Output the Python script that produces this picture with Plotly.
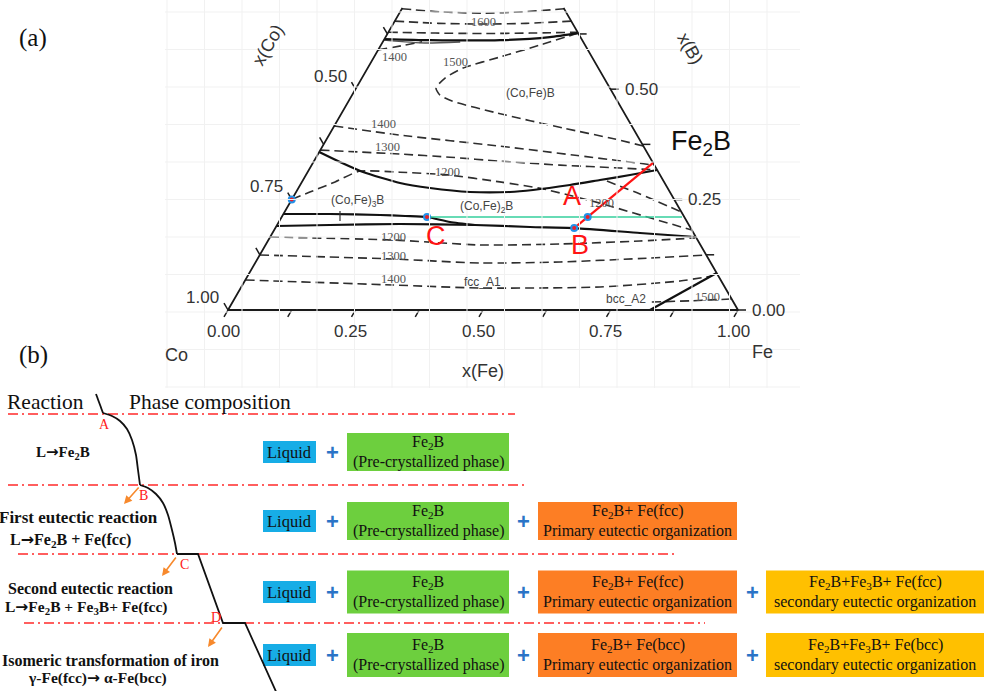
import numpy as np
import plotly.graph_objects as go

W, H = 989, 691
SANS = "Liberation Sans, Arial, sans-serif"
SERIF = "Liberation Serif, Times New Roman, serif"

# ---------------- (a) Co-Fe-B liquidus projection ----------------
# every curve is given as mole fractions (x(Fe), x(B)); x(Co) = 1 - x(Fe) - x(B)
X0_PX, X1_PX, BASE_PX = 228, 738, 310      # where the Co-Fe edge sits on the page
UNIT = X1_PX - X0_PX                        # pixels per unit of composition
SQ3 = np.sqrt(3) / 2
XB_TOP = 0.684                              # the diagram is cut off above this x(B)

TICKS = [0.0, 0.125, 0.25, 0.375, 0.5, 0.625, 0.75, 0.875, 1.0]
LABELLED = [0.0, 0.25, 0.5, 0.75, 1.0]

# isotherms (dashed)
iso_top_fe = [0.0, 0.08, 0.164, 0.24, 0.318]
iso_top_b = [0.682, 0.675, 0.672, 0.675, 0.682]
iso_1600_fe = [0.0, 0.088, 0.176, 0.26, 0.346]
iso_1600_b = [0.654, 0.649, 0.6475, 0.649, 0.654]
iso_top3_fe = [0.0, 0.093, 0.186, 0.279, 0.371]
iso_top3_b = [0.629, 0.627, 0.626, 0.627, 0.629]
iso_1400a_fe = [0.0, 0.04, 0.077]
iso_1400a_b = [0.589, 0.598, 0.607]
iso_1500_fe = [0.373, 0.312, 0.247, 0.187, 0.163, 0.1565, 0.172, 0.2026, 0.3045, 0.451, 0.565, 0.6287]
iso_1500_b = [0.627, 0.600, 0.5728, 0.5479, 0.5252, 0.5026, 0.4868, 0.4732, 0.446, 0.412, 0.3871, 0.3713]
iso_1400_fe = [0.0, 0.139, 0.348, 0.516, 0.672]
iso_1400_b = [0.4166, 0.396, 0.371, 0.349, 0.328]
iso_1300_fe = [0.0, 0.161, 0.262, 0.365, 0.487, 0.608, 0.683]
iso_1300_b = [0.362, 0.353, 0.346, 0.337, 0.328, 0.3215, 0.317]
iso_1200_fe = [0.0, 0.027, 0.065, 0.100, 0.181, 0.277, 0.388, 0.481, 0.608, 0.684, 0.819]
iso_1200_b = [0.251, 0.267, 0.290, 0.314, 0.312, 0.306, 0.290, 0.274, 0.242, 0.220, 0.181]
iso_side_fe = [0.597, 0.6765, 0.778]
iso_side_b = [0.292, 0.2626, 0.222]
iso_1200l_fe = [0.0, 0.2443, 0.4205, 0.5763, 0.7297, 0.8342]
iso_1200l_b = [0.1653, 0.1585, 0.1472, 0.1494, 0.1562, 0.163]
iso_1300l_fe = [0.0, 0.2658, 0.4409, 0.5967, 0.7686, 0.8755]
iso_1300l_b = [0.1245, 0.1155, 0.1064, 0.1087, 0.1177, 0.1245]
iso_1400l_fe = [0.0, 0.2952, 0.4692, 0.7034, 0.8535, 0.9105]
iso_1400l_b = [0.0679, 0.0566, 0.0498, 0.0521, 0.0657, 0.077]
iso_1500bcc_fe = [0.822, 0.90, 0.975]
iso_1500bcc_b = [0.018, 0.021, 0.025]

# monovariant boundaries (solid)
bnd_top_fe = [0.0, 0.0905, 0.228, 0.322, 0.373]
bnd_top_b = [0.6135, 0.611, 0.611, 0.618, 0.627]
bnd_top2_fe = [0.0, 0.084, 0.152]
bnd_top2_b = [0.611, 0.6045, 0.6067]
bnd_mb_fe = [0.0, 0.052, 0.1085, 0.1935, 0.258, 0.341, 0.4193, 0.4622, 0.529, 0.5822, 0.6354, 0.683]
bnd_mb_b = [0.3577, 0.3351, 0.3124, 0.2875, 0.2762, 0.2672, 0.2672, 0.2717, 0.283, 0.2943, 0.3056, 0.317]
bnd_m3b_fe = [0.0, 0.0913, 0.1905, 0.2407, 0.285, 0.3357, 0.3881]
bnd_m3b_b = [0.2173, 0.2173, 0.2151, 0.2128, 0.2105, 0.1992, 0.1924]
bnd_fcc_fe = [0.0, 0.1038, 0.2399, 0.3881, 0.4982, 0.586, 0.7206, 0.8347]
bnd_fcc_b = [0.1902, 0.1924, 0.1947, 0.1924, 0.1879, 0.1856, 0.1743, 0.1653]
bnd_bcc_fe = [0.8275, 0.9162]
bnd_bcc_b = [0.0, 0.0838]

# solidification path points
pt_B = (0.586, 0.1856)
pt_A = (0.600, 0.2105)
pt_C = (0.285, 0.2105)
pt_edge = (0.0, 0.25)
fe2b = (2 / 3, 1 / 3)
green_end_fe = 0.785

iso_labels = ["1600", "1400", "1500", "1400", "1300", "1200", "1200", "1200", "1300", "1400", "1500"]
iso_label_px = [(483, 22), (394, 57), (455, 62), (383, 124), (387, 147), (447, 172),
                (601, 203), (393, 237), (393, 256), (393, 279), (707, 297)]
phase_labels = ["(Co,Fe)B", "(Co,Fe)<sub>3</sub>B", "(Co,Fe)<sub>2</sub>B", "fcc_A1", "bcc_A2"]
phase_label_px = [(530, 93), (357, 201), (486, 207), (482, 282), (626, 299)]

# ---------------- (b) solidification sequence ----------------
ARROW = '<span style="font-family:DejaVu Sans">→</span>'
reaction_text = [
    ["L" + ARROW + "Fe<sub>2</sub>B"],
    ["First eutectic reaction", "L" + ARROW + "Fe<sub>2</sub>B + Fe(fcc)"],
    ["Second eutectic reaction", "L" + ARROW + "Fe<sub>2</sub>B + Fe<sub>3</sub>B+ Fe(fcc)"],
    ["Isomeric transformation of iron", "γ-Fe(fcc)" + ARROW + " α-Fe(bcc)"],
]
reaction_line_px = [[(63, 452)], [(78, 517), (70, 540)], [(90, 588), (86, 607)], [(110, 660), (97, 678)]]
reaction_size = [[15], [17, 16], [16, 15.5], [16, 15.5]]

phase_rows = [
    ["Liquid", "Fe<sub>2</sub>B<br>(Pre-crystallized phase)"],
    ["Liquid", "Fe<sub>2</sub>B<br>(Pre-crystallized phase)",
     "Fe<sub>2</sub>B+ Fe(fcc)<br>Primary eutectic organization"],
    ["Liquid", "Fe<sub>2</sub>B<br>(Pre-crystallized phase)",
     "Fe<sub>2</sub>B+ Fe(fcc)<br>Primary eutectic organization",
     "Fe<sub>2</sub>B+Fe<sub>3</sub>B+ Fe(fcc)<br>secondary eutectic organization"],
    ["Liquid", "Fe<sub>2</sub>B<br>(Pre-crystallized phase)",
     "Fe<sub>2</sub>B+ Fe(bcc)<br>Primary eutectic organization",
     "Fe<sub>2</sub>B+Fe<sub>3</sub>B+ Fe(bcc)<br>secondary eutectic organization"],
]
row_y = [452, 521, 592, 655]
row_h = [38, 38, 43, 44]
liquid_h = 22
col_x = [(263, 316), (347, 509), (538, 737), (766, 984)]
col_color = ["#17ade6", "#6dcf3e", "#fd7e24", "#ffc000"]
plus_x = [332, 523, 752]

sep_y = [414, 485, 554, 623]
sep_x0 = [8, 8, 18, 24]
sep_x1 = [515, 527, 677, 705]

# schematic cooling curve
curve_top_x, curve_top_y = [96, 103], [394, 413]
curve_AB_x = [103, 112, 120, 127, 132, 136, 138, 140]
curve_AB_y = [413, 416, 421, 429, 440, 455, 470, 485]
curve_BC_x = [140, 148, 156, 163, 168, 172, 175, 177]
curve_BC_y = [485, 488, 494, 503, 515, 530, 543, 554]
curve_rest_x = [177, 198, 223, 245, 278]
curve_rest_y = [554, 554, 623, 623, 696]
point_names = ["A", "B", "C", "D"]
point_label_px = [(104, 424), (143, 495), (184, 564), (216, 617)]
arrow_from = [(140, 486), (177, 556), (223, 626)]
arrow_to = [(124, 504), (162, 576), (208, 647)]


def tern(fe, b):
    fe = np.asarray(fe, float)
    b = np.asarray(b, float)
    return fe + b / 2, b * SQ3


fig = go.Figure()


def add_xy(x, y, color, width, dash=None, shape="linear", axes=("x", "y"), smoothing=0.6):
    line = dict(color=color, width=width, dash=dash, shape=shape)
    if shape == "spline":
        line["smoothing"] = smoothing
    fig.add_trace(go.Scatter(
        x=list(x), y=list(y), mode="lines", xaxis=axes[0], yaxis=axes[1], line=line,
        hoverinfo="skip", showlegend=False))


def add_curve(fe, b, color="#2e2e2e", width=1.6, dash="9px,5px", shape="spline"):
    X, Y = tern(fe, b)
    add_xy(X, Y, color, width, dash, shape)


# faint background grid
gx, gy = [], []
for v in np.arange(167, 800, 37.5):
    gx += [v, v, None]
    gy += [0, 388, None]
for v in np.arange(12, 388, 37.5):
    gx += [165, 800, None]
    gy += [v, v, None]
add_xy(gx, gy, "#f1f1f1", 1, axes=("x2", "y2"))

for fe, b in [(iso_top_fe, iso_top_b), (iso_1600_fe, iso_1600_b), (iso_top3_fe, iso_top3_b),
              (iso_1400a_fe, iso_1400a_b), (iso_1500_fe, iso_1500_b), (iso_1400_fe, iso_1400_b),
              (iso_1300_fe, iso_1300_b), (iso_1200_fe, iso_1200_b), (iso_side_fe, iso_side_b),
              (iso_1200l_fe, iso_1200l_b), (iso_1300l_fe, iso_1300l_b), (iso_1400l_fe, iso_1400l_b),
              (iso_1500bcc_fe, iso_1500bcc_b)]:
    add_curve(fe, b)

add_curve(bnd_top2_fe, bnd_top2_b, color="#555555", width=1.4, dash=None)
for fe, b in [(bnd_top_fe, bnd_top_b), (bnd_mb_fe, bnd_mb_b), (bnd_m3b_fe, bnd_m3b_b),
              (bnd_fcc_fe, bnd_fcc_b), (bnd_bcc_fe, bnd_bcc_b)]:
    add_curve(fe, b, color="#111111", width=2.2, dash=None)

# triangle edges, cut at the top
ex, ey = tern([0, 1, 1 - XB_TOP], [0, 0, XB_TOP])
lx, ly = tern([0, 0], [0, XB_TOP])
add_xy([lx[1], lx[0], ex[1], ex[2]], [ly[1], ly[0], ey[1], ey[2]], "#1a1a1a", 1.8)

# ticks every 0.125 on the three axes
L = 8 / UNIT
tx, ty = [], []
for t in TICKS:
    tx += [t, t - 0.5 * L, None]
    ty += [0, -SQ3 * L, None]
    if t <= XB_TOP:
        X, Y = tern(1 - t, t)
        tx += [float(X), float(X) + L, None]
        ty += [float(Y), float(Y), None]
        X, Y = tern(0, t)
        tx += [float(X), float(X) - 0.5 * L, None]
        ty += [float(Y), float(Y) + SQ3 * L, None]
add_xy(tx, ty, "#1a1a1a", 1.5)

# solidification path: C -> B line (green), B -> Fe2B (red)
gxs, gys = tern([pt_C[0], green_end_fe], [pt_C[1], pt_C[1]])
add_xy(gxs, gys, "#35cf9c", 1.6)
rxs, rys = tern([pt_B[0], fe2b[0]], [pt_B[1], fe2b[1]])
add_xy(rxs, rys, "#ff1414", 2.2)
dx, dy = tern([pt_B[0], pt_A[0], pt_C[0], pt_edge[0]], [pt_B[1], pt_A[1], pt_C[1], pt_edge[1]])
fig.add_trace(go.Scatter(x=list(dx), y=list(dy), mode="markers", hoverinfo="skip", showlegend=False,
                         marker=dict(size=6, color="#e8202a", line=dict(color="#2391e8", width=2))))

ann = []


def text(x, y, s, size, color="#222", font=SANS, ref=("x2", "y2"), **kw):
    d = dict(x=x, y=y, xref=ref[0], yref=ref[1], text=s, showarrow=False,
             font=dict(family=font, size=size, color=color))
    d.update(kw)
    ann.append(d)


# tick labels
for t in LABELLED:
    lab = f"{t:.2f}"
    X, Y = tern(t, 0)
    text(float(X), float(Y), lab, 17, "#333", ref=("x", "y"), xshift=-5, yshift=-21)
    if t <= XB_TOP:
        X, Y = tern(1 - t, t)
        text(float(X), float(Y), lab, 17, "#333", ref=("x", "y"), xanchor="left", xshift=12)
        X, Y = tern(0, t)
        text(float(X), float(Y), f"{1 - t:.2f}", 17, "#333", ref=("x", "y"),
             xanchor="right", xshift=-7, yshift=13)

text(268, 45, "x(Co)", 18, "#333", textangle=-60)
text(690, 48, "x(B)", 18, "#333", textangle=60)
text(483, 371, "x(Fe)", 18, "#333")
text(176, 355, "Co", 18, "#333")
text(762, 352, "Fe", 18, "#333")
text(701, 143, "Fe<sub>2</sub>B", 27, "#111")
text(572, 196, "A", 27, "#ff1414")
text(580, 245, "B", 27, "#ff1414")
text(436, 236, "C", 27, "#ff1414")

for s, (px, py) in zip(iso_labels, iso_label_px):
    text(px, py, s, 12.5, "#555", SERIF)
for s, (px, py) in zip(phase_labels, phase_label_px):
    text(px, py, s, 12, "#444")

text(33, 38, "(a)", 25, "#111", SERIF)
text(33, 355, "(b)", 25, "#111", SERIF)

# ---------------- (b) drawing ----------------
shapes = [dict(type="line", xref="x2", yref="y2", x0=340, x1=340, y0=211, y1=221,
               line=dict(color="#333", width=1.2))]
for y, a, b in zip(sep_y, sep_x0, sep_x1):
    add_xy([a, b], [y, y], "#ff2a2a", 1.3, dash="10px,4px,2px,4px", axes=("x2", "y2"))

add_xy(curve_top_x, curve_top_y, "#111", 1.8, axes=("x2", "y2"))
add_xy(curve_AB_x, curve_AB_y, "#111", 1.8, shape="spline", axes=("x2", "y2"))
add_xy(curve_BC_x, curve_BC_y, "#111", 1.8, shape="spline", axes=("x2", "y2"))
add_xy(curve_rest_x, curve_rest_y, "#111", 1.8, axes=("x2", "y2"))

for s, (px, py) in zip(point_names, point_label_px):
    text(px, py, s, 14, "#ff2020", SERIF)
for (x0, y0), (x1, y1) in zip(arrow_from, arrow_to):
    ann.append(dict(x=x1, y=y1, ax=x0, ay=y0, xref="x2", yref="y2", axref="x2", ayref="y2",
                    text="", showarrow=True, arrowhead=2, arrowsize=1, arrowwidth=1.6,
                    arrowcolor="#f7892c"))

text(45, 402, "Reaction", 21.5, "#111", SERIF)
text(210, 402, "Phase composition", 21.5, "#111", SERIF)
for lines, poss, sizes in zip(reaction_text, reaction_line_px, reaction_size):
    for s, (px, py), sz in zip(lines, poss, sizes):
        text(px, py, "<b>" + s + "</b>", sz, "#111", SERIF)

for row, yc, h in zip(phase_rows, row_y, row_h):
    for i, label in enumerate(row):
        x0, x1 = col_x[i]
        hh = liquid_h if i == 0 else h
        shapes.append(dict(type="rect", xref="x2", yref="y2", x0=x0, x1=x1,
                           y0=yc - hh / 2, y1=yc + hh / 2, fillcolor=col_color[i],
                           line=dict(width=0), layer="below"))
        parts = label.split("<br>")
        if len(parts) == 1:
            text((x0 + x1) / 2, yc + 0.5, parts[0], 16.5, "#111", SERIF)
        else:
            text((x0 + x1) / 2, yc - 9.5, parts[0], 16, "#111", SERIF)
            text((x0 + x1) / 2, yc + 9.5, parts[1], 16, "#111", SERIF)
        if i > 0:
            text(plus_x[i - 1], yc, "<b>+</b>", 22, "#2b74c7", SANS)

fig.update_layout(
    width=W, height=H, margin=dict(l=0, r=0, t=0, b=0),
    paper_bgcolor="white", plot_bgcolor="white",
    xaxis=dict(range=[-X0_PX / UNIT, (W - X0_PX) / UNIT], visible=False, fixedrange=True),
    yaxis=dict(range=[-(H - BASE_PX) / UNIT, BASE_PX / UNIT], visible=False, fixedrange=True),
    xaxis2=dict(range=[0, W], overlaying="x", visible=False, fixedrange=True),
    yaxis2=dict(range=[H, 0], overlaying="y", visible=False, fixedrange=True),
    shapes=shapes, annotations=ann, showlegend=False,
)
fig.write_html("out.html")
